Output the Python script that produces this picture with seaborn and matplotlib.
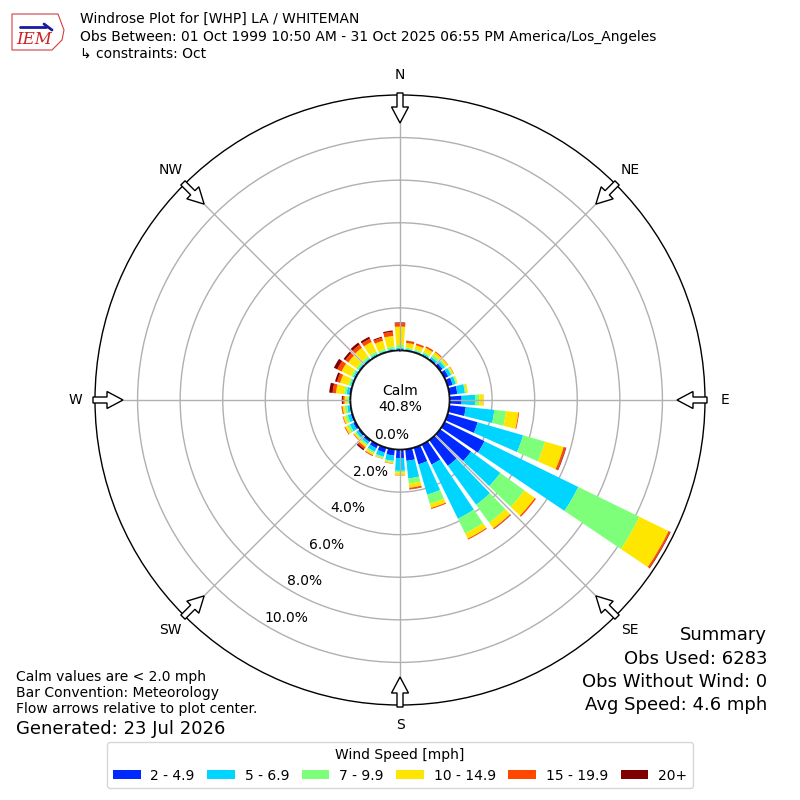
import numpy as np
import pandas as pd
import matplotlib
matplotlib.use("Agg")
import matplotlib.pyplot as plt
from matplotlib.patches import FancyArrow, Polygon
import seaborn as sns

# ---------------- data (percent of observations) ----------------
directions = list(range(0, 360, 10))
speed_labels = ["2 - 4.9", "5 - 6.9", "7 - 9.9", "10 - 14.9", "15 - 19.9", "20+"]
s_2_5 = [0.06, 0.04, 0.04, 0.05, 0.08, 0.15, 0.20, 0.25, 0.38, 0.57, 0.78, 1.47,
         2.09, 1.80, 1.50, 1.05, 0.82, 0.55, 0.40, 0.30, 0.25, 0.20, 0.12, 0.10,
         0.12, 0.08, 0.05, 0.03, 0.08, 0.05, 0.06, 0.05, 0.05, 0.05, 0.04, 0.05]
s_5_7 = [0.08, 0.05, 0.05, 0.07, 0.10, 0.13, 0.15, 0.15, 0.36, 0.63, 1.35, 2.22,
         4.90, 1.70, 2.26, 2.83, 1.48, 0.83, 0.60, 0.25, 0.20, 0.18, 0.12, 0.12,
         0.18, 0.15, 0.12, 0.05, 0.12, 0.06, 0.07, 0.06, 0.06, 0.06, 0.05, 0.06]
s_7_10 = [0.12, 0.06, 0.06, 0.08, 0.12, 0.08, 0.06, 0.05, 0.05, 0.20, 0.55, 1.07,
          3.20, 1.40, 1.04, 0.77, 0.45, 0.24, 0.08, 0.06, 0.07, 0.08, 0.08, 0.07,
          0.12, 0.12, 0.12, 0.08, 0.12, 0.09, 0.10, 0.10, 0.10, 0.10, 0.08, 0.09]
s_10_15 = [0.86, 0.22, 0.20, 0.20, 0.15, 0.10, 0.07, 0.05, 0.09, 0.19, 0.58, 0.91,
           1.52, 0.60, 0.32, 0.27, 0.20, 0.20, 0.12, 0.06, 0.04, 0.10, 0.10, 0.07,
           0.12, 0.10, 0.10, 0.12, 0.38, 0.40, 0.50, 0.47, 0.50, 0.50, 0.40, 0.50]
s_15_20 = [0.16, 0.10, 0.09, 0.08, 0.05, 0.02, 0.02, 0.00, 0.00, 0.01, 0.04, 0.10,
           0.08, 0.07, 0.04, 0.05, 0.05, 0.06, 0.02, 0.02, 0.01, 0.05, 0.10, 0.03,
           0.04, 0.03, 0.04, 0.08, 0.16, 0.15, 0.22, 0.17, 0.18, 0.17, 0.15, 0.20]
s_20p = [0.04, 0.01, 0.00, 0.00, 0.00, 0.00, 0.00, 0.00, 0.00, 0.00, 0.00, 0.03,
         0.03, 0.00, 0.02, 0.00, 0.00, 0.02, 0.00, 0.00, 0.00, 0.00, 0.08, 0.00,
         0.00, 0.00, 0.01, 0.05, 0.16, 0.10, 0.18, 0.10, 0.12, 0.10, 0.05, 0.06]
calm_pct = 40.8
ring_ticks = [0, 2, 4, 6, 8, 10]
compass = ["N", "NE", "E", "SE", "S", "SW", "W", "NW"]
title_lines = ["Windrose Plot for [WHP] LA / WHITEMAN",
               "Obs Between: 01 Oct 1999 10:50 AM - 31 Oct 2025 06:55 PM America/Los_Angeles",
               "\u21b3 constraints: Oct"]
left_notes = ["Calm values are < 2.0 mph", "Bar Convention: Meteorology",
              "Flow arrows relative to plot center."]
generated = "Generated: 23 Jul 2026"
summary = ["Summary", "Obs Used: 6283", "Obs Without Wind: 0", "Avg Speed: 4.6 mph"]

series = [s_2_5, s_5_7, s_7_10, s_10_15, s_15_20, s_20p]
df = pd.DataFrame({lab: vals for lab, vals in zip(speed_labels, series)}, index=directions)

# ---------------- style ----------------
sns.set_theme(style="white", rc={"text.color": "black", "axes.labelcolor": "black",
                                 "xtick.color": "black", "ytick.color": "black"})
plt.rcParams["font.family"] = ["DejaVu Sans"]
colors = sns.color_palette([plt.get_cmap("jet")(v) for v in np.linspace(0, 1, 7)[1:]])

fig = plt.figure(figsize=(8, 8), dpi=100)
fig.patch.set_facecolor("white")

ax = fig.add_axes([95 / 800, 95 / 800, 610 / 800, 610 / 800], projection="polar")
ax.set_theta_zero_location("N")
ax.set_theta_direction(-1)
ax.set_ylim(0, 12)
ax.set_rorigin(-2.325)
ax.set_facecolor("white")
ax.set_axisbelow(True)

theta = np.radians(df.index.values)
width = np.radians(8.0)
bottom = np.zeros(len(df))
for lab, col in zip(speed_labels, colors):
    vals = df[lab].values
    ax.bar(theta, vals, width=width, bottom=bottom, color=col, edgecolor="none",
           linewidth=0, label=lab, zorder=2, align="center")
    bottom = bottom + vals

# ring grid (below bars)
ax.set_rgrids(ring_ticks, labels=["%.1f%%" % t for t in ring_ticks], angle=211,
              fontsize=10, color="black")
ax.yaxis.grid(True, color="#b0b0b0", linewidth=1)
ax.set_thetagrids(range(0, 360, 45), labels=[""] * 8)
ax.xaxis.grid(False)
# spoke lines on top of bars
for a in range(0, 360, 45):
    ax.plot([np.radians(a), np.radians(a)], [0, 12], color="#b0b0b0", lw=1, zorder=3)
ax.spines["polar"].set_color("black")
ax.spines["polar"].set_linewidth(1)
# calm circle edge
tt = np.linspace(0, 2 * np.pi, 361)
ax.plot(tt, np.zeros_like(tt), color="black", lw=1.2, zorder=4)
for lbl in ax.get_yticklabels():
    lbl.set_zorder(5)

# ---------------- overlay (pixel coordinates) ----------------
ov = fig.add_axes([0, 0, 1, 1], zorder=10)
ov.set_xlim(0, 800)
ov.set_ylim(800, 0)
ov.axis("off")

cx, cy = 400, 400
ov.text(cx, cy - 1, "Calm\n%.1f%%" % calm_pct, ha="center", va="center", fontsize=10,
        linespacing=1.25, color="black")

for i, name in enumerate(compass):
    ang = np.radians(45 * i)
    sx, sy = np.sin(ang), -np.cos(ang)
    r0, r1 = 307, 277
    ov.add_patch(FancyArrow(cx + r0 * sx, cy + r0 * sy, (r1 - r0) * sx, (r1 - r0) * sy,
                            width=6, head_width=17, head_length=16,
                            length_includes_head=True, facecolor="white",
                            edgecolor="black", linewidth=1))
    ov.text(cx + 325 * sx, cy + 325 * sy, name, ha="center", va="center", fontsize=10,
            color="black")

# titles
for k, line in enumerate(title_lines):
    ov.text(80, 19 + 17.5 * k, line, ha="left", va="center", fontsize=10, color="black")

# IEM logo (simple)
logo = [(12, 14), (58, 14), (61, 22), (64, 30), (62, 40), (56, 46), (52, 50), (12, 50)]
ov.add_patch(Polygon(logo, closed=True, facecolor="white", edgecolor="#d04040", lw=0.8))
ov.plot([20, 46], [27, 27], color="#1a1aa0", lw=2)
ov.plot([44, 52], [24, 30], color="#1a1aa0", lw=2)
ov.text(34, 40, "IEM", ha="center", va="center", fontsize=12, color="#cc2222",
        family="DejaVu Serif", style="italic")

# bottom left notes
ov.text(16, 693, "\n".join(left_notes), ha="left", va="center", fontsize=10,
        linespacing=1.2, color="black")
ov.text(16, 729, generated, ha="left", va="center", fontsize=13, color="black")

# summary right
for k, line in enumerate(summary):
    ov.text(767, 635 + 23.5 * k, line, ha="right", va="center", fontsize=13,
            color="black")

# legend
handles, labels = ax.get_legend_handles_labels()
leg = fig.legend(handles, labels, loc="lower center", bbox_to_anchor=(0.5, 0.006),
                 ncol=6, fontsize=10, title="Wind Speed [mph]", title_fontsize=10,
                 frameon=True, handlelength=2.0, handleheight=0.6, columnspacing=0.9,
                 handletextpad=0.7, borderpad=0.4, fancybox=True)
leg.get_frame().set_edgecolor("#cccccc")
for t in leg.get_texts():
    t.set_color("black")
leg.get_title().set_color("black")

fig.savefig("out.png", dpi=100, facecolor="white")
